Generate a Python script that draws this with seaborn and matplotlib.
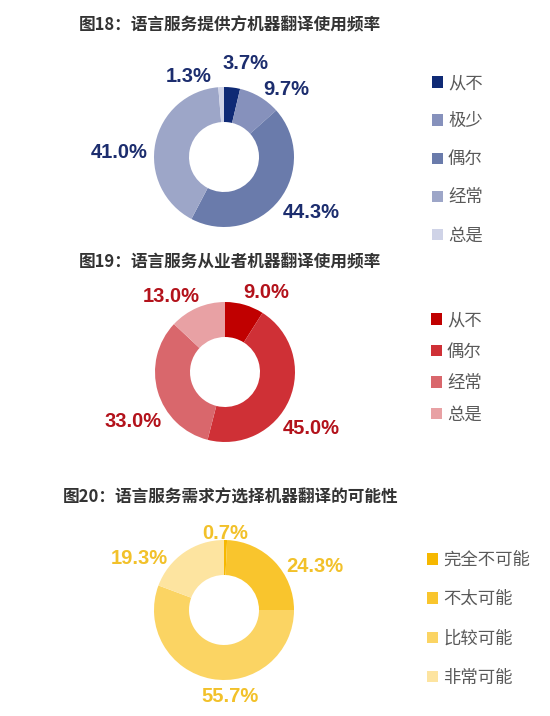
import numpy as np
import seaborn as sns
import matplotlib.pyplot as plt

W, H = 550, 716

# chart data
provider_title = "图18：语言服务提供方机器翻译使用频率"
provider_labels = ["从不", "极少", "偶尔", "经常", "总是"]
provider_share = [3.7, 9.7, 44.3, 41.0, 1.3]

worker_title = "图19：语言服务从业者机器翻译使用频率"
worker_labels = ["从不", "偶尔", "经常", "总是"]
worker_share = [9.0, 45.0, 33.0, 13.0]

buyer_title = "图20：语言服务需求方选择机器翻译的可能性"
buyer_labels = ["完全不可能", "不太可能", "比较可能", "非常可能"]
buyer_share = [0.7, 24.3, 55.7, 19.3]

# colours
blues = sns.color_palette(["#0f2a75", "#8691bc", "#6a7bab", "#9da6c8", "#cfd3e7"])
reds = sns.color_palette(["#c00000", "#cf3036", "#d9676c", "#e8a1a4"])
golds = sns.color_palette(["#f6b800", "#f9c52d", "#fbd463", "#fde4a0"])

sns.set_theme(style="white")
plt.rcParams['font.family'] = ['Noto Sans CJK SC', 'DejaVu Sans']

fig = plt.figure(figsize=(W / 100, H / 100), dpi=100)
R = 70  # outer radius in px


def donut(values, labels, colors, pct_color, title, center, nudges,
          title_xy, legend_xy, legend_gap):
    cx, cy = center
    ax = fig.add_axes([(cx - 2 * R) / W, 1 - (cy + 2 * R) / H, 4 * R / W, 4 * R / H])
    wedges, _ = ax.pie(values, colors=colors, startangle=90, counterclock=False,
                       radius=1, wedgeprops=dict(width=0.5, linewidth=0))
    ax.set_xlim(-2, 2)
    ax.set_ylim(-2, 2)
    ax.set_aspect('equal')
    ax.axis('off')

    # percentage labels just outside each wedge
    for w, v, (nx, ny) in zip(wedges, values, nudges):
        ang = np.deg2rad((w.theta1 + w.theta2) / 2)
        x = 1.4 * np.cos(ang) + nx / R
        y = 1.4 * np.sin(ang) - ny / R
        ax.text(x, y, f"{v:.1f}%", ha='center', va='center', color=pct_color,
                fontsize=14.5, fontweight='bold', family='Liberation Sans')

    fig.text(title_xy[0] / W, 1 - title_xy[1] / H, title, ha='left', va='center',
             fontsize=12, fontweight='bold', color='#333333')

    lx, ly = legend_xy
    leg = fig.legend(wedges, labels, loc='upper left',
                     bbox_to_anchor=(lx / W, 1 - (ly - 8) / H),
                     frameon=False, handlelength=0.62, handleheight=0.62,
                     handletextpad=0.3, labelspacing=legend_gap,
                     borderpad=0, borderaxespad=0,
                     prop=dict(family='Noto Sans CJK SC', size=12.5, weight='light'),
                     labelcolor='#595959')
    return ax, leg


donut(provider_share, provider_labels, blues, '#1c2d6e', provider_title,
      (224, 157), [(10, 4), (12, 17), (10, -5), (-9, 15), (-31, 17)],
      (79, 25), (432, 82), 1.16)

donut(worker_share, worker_labels, reds, '#b3121b', worker_title,
      (225, 372), [(14, 15), (-4, 18), (2, 22), (-15, 14)],
      (79, 262), (431, 319), 0.78)

donut(buyer_share, buyer_labels, golds, '#f2c12a', buyer_title,
      (224, 610), [(-1, 21), (20, 24), (23, -10), (-29, 29)],
      (63, 498), (427, 559), 1.22)

fig.savefig("out.png", dpi=100)
